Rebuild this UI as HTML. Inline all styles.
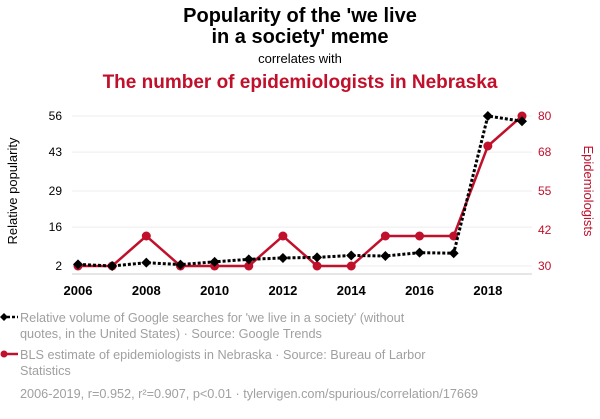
<!DOCTYPE html>
<html><head><meta charset="utf-8"><style>
body{margin:0;background:#fff;width:600px;height:414px;overflow:hidden;font-family:"Liberation Sans",Arial,sans-serif}
svg text{font-family:"Liberation Sans",Arial,sans-serif}
</style></head><body>
<svg id="chart" width="600" height="414" xmlns="http://www.w3.org/2000/svg">
<text x="300" y="22" text-anchor="middle" font-size="20" font-weight="bold" fill="#000">Popularity of the 'we live</text>
<text x="300" y="43" text-anchor="middle" font-size="20" font-weight="bold" fill="#000">in a society' meme</text>
<text x="300" y="63" text-anchor="middle" font-size="13" fill="#000">correlates with</text>
<text x="300" y="88" text-anchor="middle" font-size="19" font-weight="bold" fill="#c0102b">The number of epidemiologists in Nebraska</text>
<text transform="translate(17,191) rotate(-90)" text-anchor="middle" font-size="13" fill="#000">Relative popularity</text>
<text transform="translate(584,191) rotate(90)" text-anchor="middle" font-size="13" fill="#c0102b">Epidemiologists</text>
<g id="grid"></g><g id="axes"></g><g id="series"></g>
<g>
<line x1="2" y1="317" x2="18" y2="317" stroke="#000" stroke-width="2.5" stroke-dasharray="3,2"/>
<path d="M4 313 L8 317 L4 321 L0 317Z" fill="#000"/>
<text x="20" y="322" font-size="12.7" fill="#a0a0a0">Relative volume of Google searches for 'we live in a society' (without</text>
<text x="20" y="338" font-size="12.7" fill="#a0a0a0">quotes, in the United States) · Source: Google Trends</text>
<line x1="4" y1="354" x2="18" y2="354" stroke="#c0102b" stroke-width="2.5"/>
<circle cx="4" cy="354" r="3.5" fill="#c0102b"/>
<text x="20" y="359" font-size="12.7" fill="#a0a0a0">BLS estimate of epidemiologists in Nebraska · Source: Bureau of Larbor</text>
<text x="20" y="375" font-size="12.7" fill="#a0a0a0">Statistics</text>
<text x="20" y="398" font-size="12.7" fill="#a0a0a0">2006-2019, r=0.952, r²=0.907, p&lt;0.01 · tylervigen.com/spurious/correlation/17669</text>
</g>
</svg>
<script>
const years=[2006,2007,2008,2009,2010,2011,2012,2013,2014,2015,2016,2017,2018,2019];
const searches=[2.6,2,3.2,2.5,3.5,4.4,4.9,5.1,5.8,5.6,6.8,6.6,56,54.1];
const epis=[30,30,40,30,30,30,40,30,30,40,40,40,70,80];
const leftTicks=[2,16,29,43,56];
const rightTicks=[30,42,55,68,80];
const xTicks=[2006,2008,2010,2012,2014,2016,2018];
const NS="http://www.w3.org/2000/svg";
const x=v=>78+(v-2006)*(444/13);
const yL=v=>266-(v-2)*(150/54);
const yR=v=>266-(v-30)*3;
function mk(tag,attrs,parent,txt){const e=document.createElementNS(NS,tag);for(const k in attrs)e.setAttribute(k,attrs[k]);if(txt!=null)e.textContent=txt;document.getElementById(parent).appendChild(e);return e;}
leftTicks.forEach(t=>{
 const g=mk('line',{x1:72,x2:532,y1:yL(t),y2:yL(t),stroke:'#eee','stroke-width':1},'grid');
 
 
 const l=mk('text',{x:62,y:yL(t)+4,'text-anchor':'end','font-size':12,fill:'#000'},'axes',t);
 
 
});
rightTicks.forEach(t=>{
 const l=mk('text',{x:538,y:yR(t)+4,'font-size':12,fill:'#c0102b'},'axes',t);
 
 
});
const ax=mk('line',{x1:72,x2:532,y1:274,y2:274,stroke:'#ccc','stroke-width':1},'axes');


xTicks.forEach(t=>{
 const l=mk('text',{x:x(t),y:295,'text-anchor':'middle','font-size':13,'font-weight':'bold',fill:'#000'},'axes',t);
 
 
});
const rp=mk('polyline',{points:years.map((y,i)=>x(y)+','+yR(epis[i])).join(' '),fill:'none',stroke:'#c0102b','stroke-width':2.5},'series');


years.forEach((y,i)=>{
 const c=mk('circle',{cx:x(y),cy:yR(epis[i]),r:4.5,fill:'#c0102b'},'series');
 
 
});
const bp=mk('polyline',{points:years.map((y,i)=>x(y)+','+yL(searches[i])).join(' '),fill:'none',stroke:'#000','stroke-width':3,'stroke-dasharray':'3,2'},'series');


years.forEach((y,i)=>{
 const cx=x(y),cy=yL(searches[i]);
 const d=mk('path',{d:`M${cx} ${cy-5} L${cx+5} ${cy} L${cx} ${cy+5} L${cx-5} ${cy}Z`,fill:'#000'},'series');
 
 
});
</script>
</body></html>
